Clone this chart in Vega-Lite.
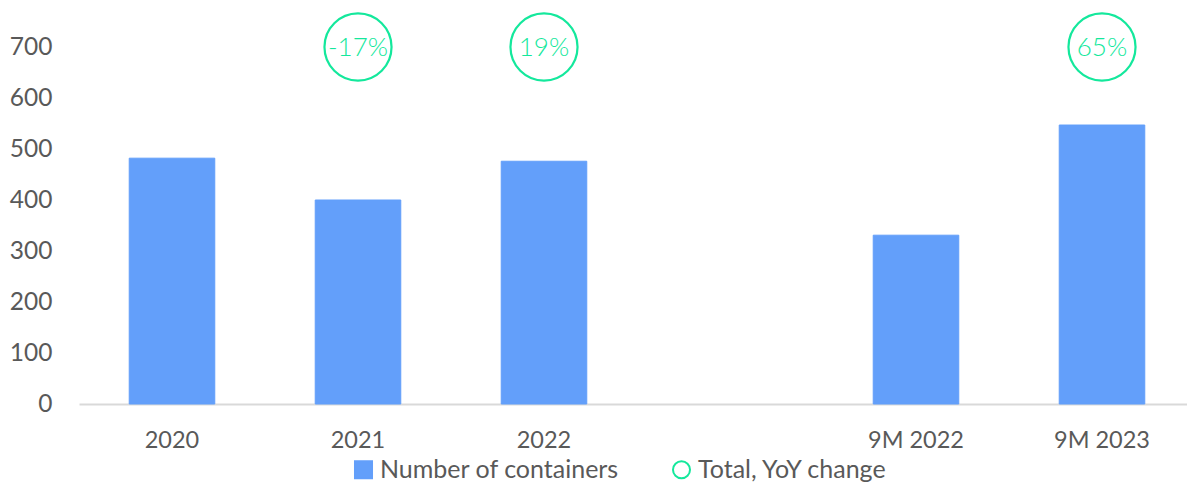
{
  "$schema": "https://vega.github.io/schema/vega-lite/v6.json",
  "width": 1116,
  "height": 357,
  "autosize": {"type": "none"},
  "padding": {"left": 79, "top": 47, "right": 0, "bottom": 78},
  "background": "white",
  "config": {
    "view": {"stroke": null},
    "font": "Lato",
    "axis": {"labelFont": "Lato", "labelColor": "#595959", "grid": false, "ticks": false},
    "legend": {"orient": "none", "legendX": 272, "legendY": 410, "direction": "horizontal", "title": null, "labelFont": "Lato", "labelFontSize": 25, "labelColor": "#595959", "labelLimit": 400, "symbolSize": 290, "symbolStrokeWidth": 2, "columnPadding": 48, "labelOffset": 4}
  },
  "data": {
    "values": [
      {"period": "2020", "containers": 482, "yoy": null},
      {"period": "2021", "containers": 400, "yoy": "-17%"},
      {"period": "2022", "containers": 476, "yoy": "19%"},
      {"period": "9M 2022", "containers": 331, "yoy": null},
      {"period": "9M 2023", "containers": 547, "yoy": "65%"}
    ]
  },
  "encoding": {
    "x": {
      "field": "period",
      "type": "nominal",
      "sort": null,
      "scale": {"domain": ["2020", "2021", "2022", " ", "9M 2022", "9M 2023"], "paddingInner": 0.54, "paddingOuter": 0.27},
      "axis": {"title": null, "labelAngle": 0, "labelFontSize": 23.5, "labelPadding": 24, "domainColor": "#d9d9d9", "domainWidth": 2}
    }
  },
  "layer": [
    {
      "mark": {"type": "bar", "strokeWidth": 1},
      "encoding": {
        "y": {
          "field": "containers",
          "type": "quantitative",
          "scale": {"domain": [0, 700]},
          "axis": {"title": null, "values": [0, 100, 200, 300, 400, 500, 600, 700], "labelFontSize": 24.5, "labelPadding": 27, "domain": false}
        },
        "fill": {
          "datum": "Number of containers",
          "type": "nominal",
          "scale": {"domain": ["Number of containers", "Total, YoY change"], "range": ["#639ffa", "transparent"]},
          "legend": {"title": null}
        },
        "stroke": {
          "datum": "Number of containers",
          "type": "nominal",
          "scale": {"domain": ["Number of containers", "Total, YoY change"], "range": ["#639ffa", "#14e89c"]},
          "legend": {"title": null}
        }
      }
    },
    {
      "transform": [{"filter": "datum.yoy != null"}],
      "mark": {"type": "point", "size": 4500, "strokeWidth": 2.2, "opacity": 1},
      "encoding": {
        "y": {"datum": 700, "type": "quantitative"},
        "fill": {"datum": "Total, YoY change", "type": "nominal"},
        "stroke": {"datum": "Total, YoY change", "type": "nominal"},
        "shape": {
          "datum": "Total, YoY change",
          "type": "nominal",
          "scale": {"domain": ["Number of containers", "Total, YoY change"], "range": ["square", "circle"]},
          "legend": {"title": null}
        }
      }
    },
    {
      "transform": [{"filter": "datum.yoy != null"}],
      "mark": {"type": "text", "fontSize": 26, "fontWeight": 300, "color": "#14e89c", "baseline": "middle", "align": "center", "dy": 1},
      "encoding": {
        "y": {"datum": 700, "type": "quantitative"},
        "text": {"field": "yoy"}
      }
    }
  ]
}
